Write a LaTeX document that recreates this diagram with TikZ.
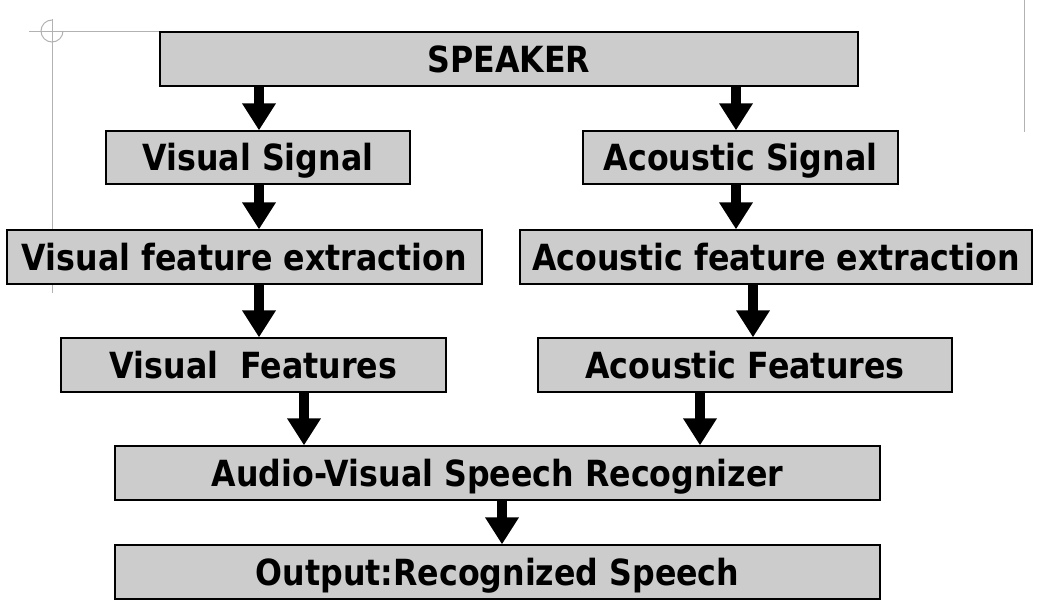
\documentclass[tikz,border=0pt]{standalone}
\usepackage{fontspec}
\newfontfamily\diagfont[FakeStretch=0.88]{DejaVu Sans}
\usetikzlibrary{arrows.meta}
\definecolor{boxgray}{RGB}{204,204,204}
\definecolor{markgray}{RGB}{178,178,178}
\begin{document}
\begin{tikzpicture}[x=1pt,y=-1pt,
  box/.style={draw=black, line width=1.3pt, fill=boxgray, inner sep=0pt,
    text height=26pt, text depth=0pt,
    font=\diagfont\bfseries\fontsize{36}{40}\selectfont, text=black},
  bigarrow/.style={line width=10pt, draw=black,
    -{Triangle[length=27pt, width=32pt]}},
  cropline/.style={draw=markgray, line width=1pt}
]
\useasboundingbox (0,0) rectangle (1044,613);
% page crop marks
\draw[cropline] (29,31) -- (240,31);
\draw[cropline] (52,19) -- (52,293);
\draw[cropline] (52,20) arc[start angle=270, end angle=0, radius=11];
\draw[cropline] (1024,0) -- (1024,132);
% boxes
\node[box, minimum width=698pt, minimum height=54pt] (speaker) at (509,59) {SPEAKER};
\node[box, minimum width=304pt, minimum height=53pt] (vsig) at (258,157.5) {Visual Signal};
\node[box, minimum width=315pt, minimum height=53pt] (asig) at (740.5,157.5) {Acoustic Signal};
\node[box, minimum width=475pt, minimum height=54pt] (vfe) at (244.5,257) {Visual feature extraction};
\node[box, minimum width=512pt, minimum height=54pt] (afe) at (776,257) {Acoustic feature extraction};
\node[box, minimum width=385pt, minimum height=54pt] (vf) at (253.5,365) {Visual\ \ Features};
\node[box, minimum width=414pt, minimum height=54pt] (af) at (745,365) {Acoustic Features};
\node[box, minimum width=765pt, minimum height=54pt] (avsr) at (497.5,473) {Audio-Visual Speech Recognizer};
\node[box, minimum width=765pt, minimum height=54pt] (out) at (497.5,572) {Output:Recognized Speech};
% arrows
\draw[bigarrow] (259,0 |- speaker.south) -- (259,0 |- vsig.north);
\draw[bigarrow] (736,0 |- speaker.south) -- (736,0 |- asig.north);
\draw[bigarrow] (259,0 |- vsig.south) -- (259,0 |- vfe.north);
\draw[bigarrow] (736,0 |- asig.south) -- (736,0 |- afe.north);
\draw[bigarrow] (259,0 |- vfe.south) -- (259,0 |- vf.north);
\draw[bigarrow] (753,0 |- afe.south) -- (753,0 |- af.north);
\draw[bigarrow] (304,0 |- vf.south) -- (304,0 |- avsr.north);
\draw[bigarrow] (700,0 |- af.south) -- (700,0 |- avsr.north);
\draw[bigarrow] (502,0 |- avsr.south) -- (502,0 |- out.north);
\end{tikzpicture}
\end{document}
